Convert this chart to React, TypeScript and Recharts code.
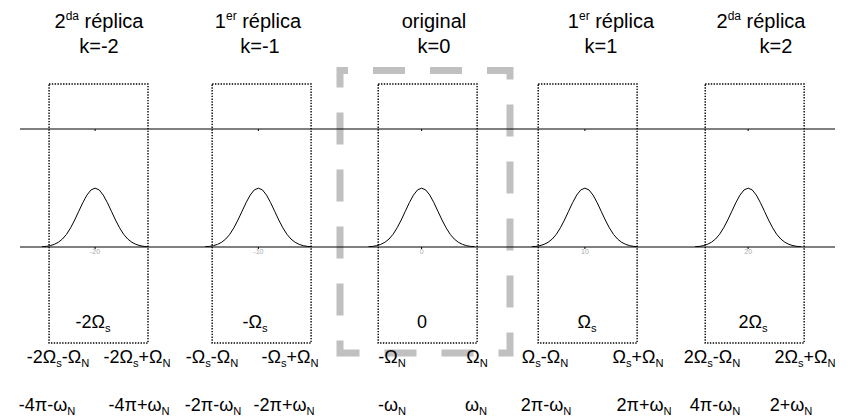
import React from 'react'
import { ComposedChart, Line, XAxis, YAxis, ReferenceArea } from 'recharts'

// replica centres (x axis units) and the bump shape
const replicaCenters = [-20, -10, 0, 10, 20]
const bumpOffsets = [-3.25, -3, -2.75, -2.5, -2.25, -2, -1.75, -1.5, -1.25, -1, -0.75, -0.5, -0.25, 0, 0.25, 0.5, 0.75, 1, 1.25, 1.5, 1.75, 2, 2.25, 2.5, 2.75, 3, 3.25]
const bumpHeights = [0.002, 0.004, 0.009, 0.018, 0.032, 0.054, 0.086, 0.13, 0.183, 0.242, 0.301, 0.352, 0.387, 0.399, 0.387, 0.352, 0.301, 0.242, 0.183, 0.13, 0.086, 0.054, 0.032, 0.018, 0.009, 0.004, 0.002]
const xTicks = [-20, -10, 0, 10, 20]

// labels ( ^ = superscript, _ = subscript )
const replicaTitles = ['2^da réplica', '1^er réplica', 'original', '1^er réplica', '2^da réplica']
const replicaK = ['k=-2', 'k=-1', 'k=0', 'k=1', 'k=2']
const boxLabels = ['-2Ω_s', '-Ω_s', '0', 'Ω_s', '2Ω_s']
const analogEdges = ['-2Ω_s-Ω_N', '-2Ω_s+Ω_N', '-Ω_s-Ω_N', '-Ω_s+Ω_N', '-Ω_N', 'Ω_N', 'Ω_s-Ω_N', 'Ω_s+Ω_N', '2Ω_s-Ω_N', '2Ω_s+Ω_N']
const digitalEdges = ['-4π-ω_N', '-4π+ω_N', '-2π-ω_N', '-2π+ω_N', '-ω_N', 'ω_N', '2π-ω_N', '2π+ω_N', '4π-ω_N', '2+ω_N']

// annotation layout
const boxLeft = [-22.82, -12.83, -2.66, 7.14, 17.37]
const boxWidth = 6.06
const titleX = [99, 258, 434, 611, 761]
const kX = [99, 260, 434, 601, 776]
const boxLabelX = [93, 255, 422, 587, 753]
const analogX = [58, 137, 212, 290, 392, 477, 545, 638, 712, 805]
const digitalX = [47, 139, 213, 284, 392, 476, 546, 644, 715, 791]

const FONT = '"Liberation Sans", Arial, sans-serif'

function RichText({ x, y, text, size }: { x: number; y: number; text: string; size: number }) {
  const parts = text.split(/(\^[a-z]+|_[A-Za-z])/).filter((p) => p !== '')
  let cur = 0
  return (
    <text x={x} y={y} textAnchor="middle" fontFamily={FONT} fontSize={size} fill="#000">
      {parts.map((p, i) => {
        let want = 0
        let fs = size
        let t = p
        if (p[0] === '^') {
          want = -0.42 * size
          fs = size * 0.6
          t = p.slice(1)
        } else if (p[0] === '_') {
          want = 0.22 * size
          fs = size * 0.62
          t = p.slice(1)
        }
        const dy = want - cur
        cur = want
        return (
          <tspan key={i} dy={dy} fontSize={fs}>
            {t}
          </tspan>
        )
      })}
    </text>
  )
}

export default function App() {
  return (
    <div style={{ position: 'absolute', left: 0, top: 0, width: 854, height: 419, background: '#fff', overflow: 'hidden' }}>
      <svg width={854} height={419} style={{ position: 'absolute', left: 0, top: 0 }}>
        <defs>
          <clipPath id="textClip">
            <rect x={0} y={0} width={838} height={419} />
          </clipPath>
        </defs>
        <path
          d="M340,70.5 H510 V353 H340 Z"
          fill="none"
          stroke="#c0c0c0"
          strokeWidth={7}
          strokeDasharray="32 25"
          strokeDashoffset={24}
        />
        <g clipPath="url(#textClip)">
          {replicaTitles.map((t, i) => (
            <RichText key={'t' + i} x={titleX[i]} y={28} text={t} size={20} />
          ))}
          {replicaK.map((t, i) => (
            <RichText key={'k' + i} x={kX[i]} y={53} text={t} size={20} />
          ))}
          {boxLabels.map((t, i) => (
            <RichText key={'b' + i} x={boxLabelX[i]} y={328} text={t} size={18} />
          ))}
          {analogEdges.map((t, i) => (
            <RichText key={'a' + i} x={analogX[i]} y={363} text={t} size={18} />
          ))}
          {digitalEdges.map((t, i) => (
            <RichText key={'d' + i} x={digitalX[i]} y={411} text={t} size={18} />
          ))}
        </g>
      </svg>
      <div style={{ position: 'absolute', left: 0, top: 0 }}>
        <ComposedChart width={854} height={419} margin={{ top: 129, right: 19, bottom: 152, left: 20 }}>
          <XAxis
            xAxisId="top"
            orientation="top"
            dataKey="x"
            type="number"
            domain={[-24.6, 25.32]}
            allowDataOverflow
            ticks={xTicks}
            tickFormatter={() => ''}
            tickSize={2}
            mirror
            height={10}
            stroke="#000"
          />
          <XAxis
            xAxisId="bottom"
            dataKey="x"
            type="number"
            domain={[-24.6, 25.32]}
            allowDataOverflow
            ticks={xTicks}
            tickSize={2}
            tickMargin={0}
            tick={{ fontSize: 7, fill: '#aaa', fontFamily: FONT }}
            height={20}
            stroke="#000"
          />
          <YAxis hide domain={[0, 0.8]} type="number" allowDataOverflow />
          {boxLeft.map((l, i) => (
            <ReferenceArea
              key={'box' + i}
              xAxisId="bottom"
              x1={l}
              x2={l + boxWidth}
              y1={-0.651}
              y2={1.105}
              ifOverflow="visible"
              fill="none"
              fillOpacity={0}
              stroke="#000"
              strokeWidth={1.4}
              strokeDasharray="1.4 1.4"
            />
          ))}
          {replicaCenters.map((c, i) => (
            <Line
              key={'rep' + i}
              xAxisId="bottom"
              data={bumpOffsets.map((o, j) => ({ x: c + o, y: bumpHeights[j] }))}
              dataKey="y"
              type="linear"
              dot={false}
              activeDot={false}
              stroke="#000"
              strokeWidth={1}
              isAnimationActive={false}
            />
          ))}
        </ComposedChart>
      </div>
    </div>
  )
}
